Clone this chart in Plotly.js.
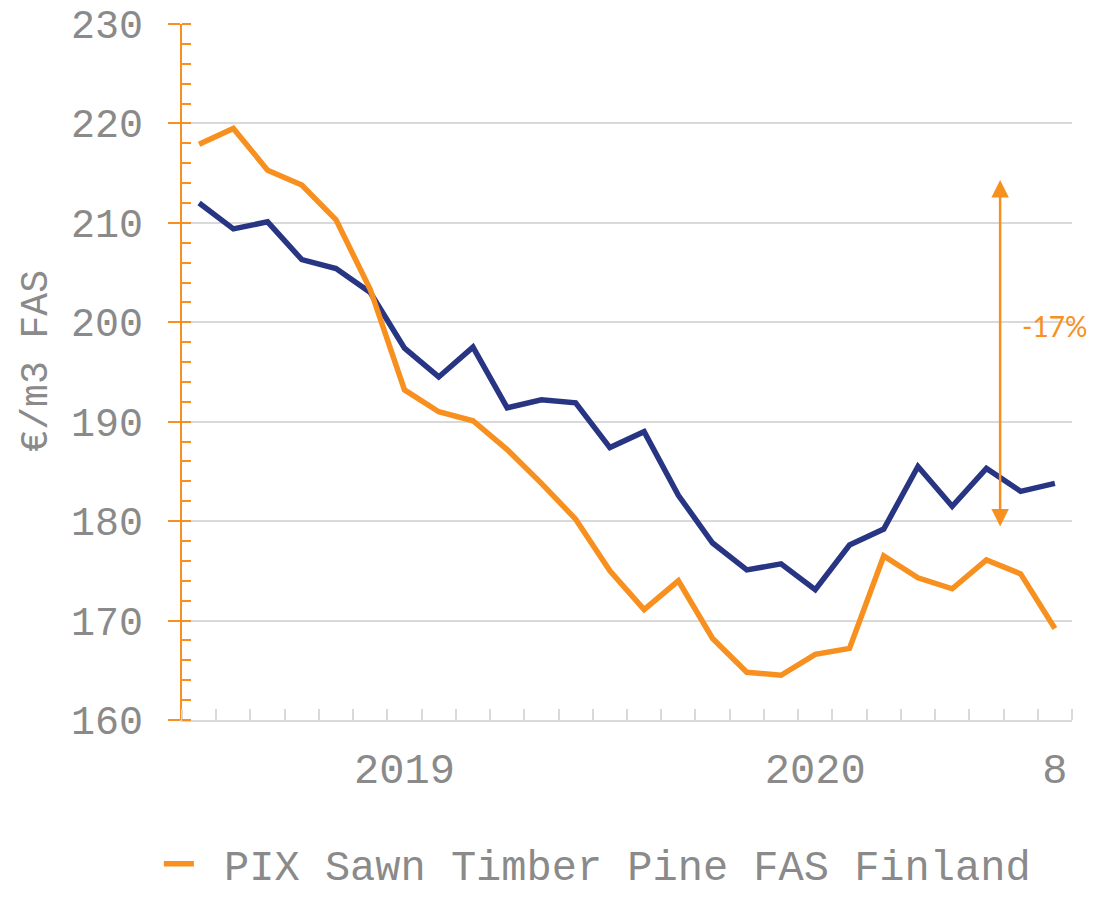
<!DOCTYPE html>
<html>
<head>
<meta charset="utf-8">
<script src="https://cdn.plot.ly/plotly-3.0.1.min.js"></script>
<style>html,body{margin:0;padding:0;background:#fff;}#chart{width:1111px;height:898px;}</style>
</head>
<body>
<div id="chart"></div>
<script>
// Monthly index: Jul 2018 .. Aug 2020 (positions 0..25)
const months = [0,1,2,3,4,5,6,7,8,9,10,11,12,13,14,15,16,17,18,19,20,21,22,23,24,25];
const tickPositions = [6, 18, 25];
const tickLabels = ["2019", "2020", "8"];
const pixFinland = [217.9,219.5,215.3,213.8,210.3,203.3,193.2,191.0,190.1,187.2,183.8,180.2,175.0,171.1,174.0,168.2,164.8,164.5,166.6,167.2,176.5,174.3,173.2,176.1,174.7,169.2];
const otherSeries = [212.0,209.4,210.1,206.3,205.4,203.0,197.4,194.5,197.5,191.4,192.2,191.9,187.4,189.0,182.6,177.8,175.1,175.7,173.1,177.6,179.2,185.5,181.5,185.3,183.0,183.8];
const arrowX = 23.4, arrowTop = 214.3, arrowBottom = 179.3;
const arrowLabel = "-17%";
const labelY = 199.6;
const yTitle = "€/m3 FAS";

const ORANGE = "#F7901E", NAVY = "#283583", GRAY = "#8a8a8a", GRID = "#d9d9d9";
const mono = "Courier New, Liberation Mono, monospace";

const traces = [
  {x: months, y: otherSeries, type: "scatter", mode: "lines", name: "PIX Sawn Timber Pine FAS Sweden",
   line: {color: NAVY, width: 5.5}, showlegend: false},
  {x: months, y: pixFinland, type: "scatter", mode: "lines", name: "\u00a0PIX Sawn Timber Pine FAS Finland",
   line: {color: ORANGE, width: 5.5}}
];

const layout = {
  width: 1111, height: 898,
  margin: {l: 182, r: 39, t: 24, b: 178},
  paper_bgcolor: "#fff", plot_bgcolor: "#fff",
  showlegend: true,
  legend: {orientation: "h", x: -0.026, xanchor: "left", yref: "container", y: 0, yanchor: "bottom",
           font: {family: mono, size: 42, color: GRAY}, itemwidth: 30},
  xaxis: {
    range: [-0.5, 25.5], tickmode: "array", tickvals: tickPositions, ticktext: tickLabels,
    ticks: "", showgrid: false, zeroline: false, automargin: false,
    showline: true, linecolor: GRID, linewidth: 2,
    tickfont: {family: mono, size: 42, color: GRAY}, ticklabelstandoff: 11,
    minor: {tick0: -0.5, dtick: 1, ticks: "inside", ticklen: 11, tickcolor: GRID, tickwidth: 2, showgrid: false}
  },
  yaxis: {
    range: [160, 230], dtick: 10, tick0: 160, automargin: false,
    ticks: "outside", ticklen: 12, tickcolor: ORANGE, tickwidth: 2,
    showline: true, linecolor: ORANGE, linewidth: 2,
    showgrid: true, gridcolor: GRID, gridwidth: 2, zeroline: false,
    tickfont: {family: mono, size: 40, color: GRAY}, ticklabelstandoff: 17,
    minor: {dtick: 2, ticks: "inside", ticklen: 9, tickcolor: ORANGE, tickwidth: 2, showgrid: false}
  },
  annotations: [
    {x: -0.163, y: 0.515, xref: "paper", yref: "paper", text: yTitle, showarrow: false, textangle: -90,
     xanchor: "center", yanchor: "middle", font: {family: mono, size: 38, color: GRAY}},
    {x: arrowX, y: arrowTop, ax: arrowX, ay: arrowBottom, xref: "x", yref: "y", axref: "x", ayref: "y",
     text: "", showarrow: true, arrowhead: 2, startarrowhead: 2, arrowside: "end+start",
     arrowsize: 1.4, startarrowsize: 1.4, arrowwidth: 2.5, arrowcolor: ORANGE},
    {x: 0.98, y: labelY, xref: "paper", yref: "y", text: arrowLabel, showarrow: false, xanchor: "center",
     font: {family: "Lato, Open Sans, sans-serif", size: 28, color: ORANGE}}
  ]
};

Plotly.newPlot("chart", traces, layout, {displayModeBar: false, staticPlot: true});
</script>
</body>
</html>
